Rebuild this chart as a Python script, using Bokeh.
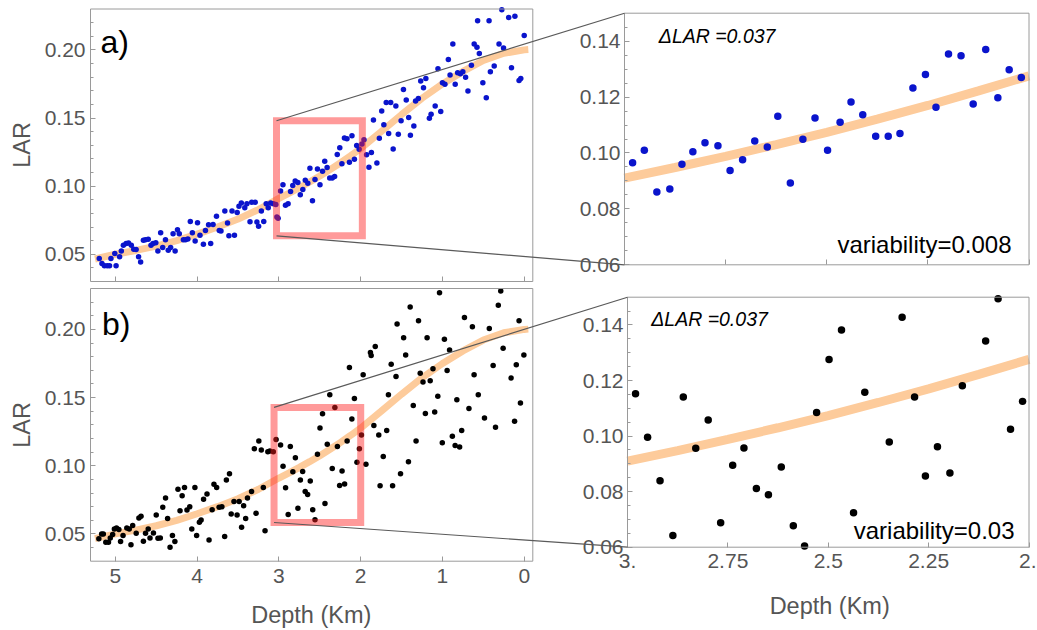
import math
from bokeh.plotting import figure
from bokeh.models import Range1d, LinearAxis, FixedTicker, NumeralTickFormatter, Label
from bokeh.embed import file_html
from bokeh.resources import INLINE

# ---------------- data ----------------
depth_a = [5.198, 5.165, 5.135, 5.101, 5.072, 5.055, 5.008, 4.992, 4.949, 4.928, 4.903, 4.869, 4.840,
           4.806, 4.776, 4.747, 4.717, 4.692, 4.658, 4.633, 4.599, 4.565, 4.540, 4.506, 4.481, 4.447,
           4.422, 4.388, 4.354, 4.325, 4.295, 4.270, 4.241, 4.219, 4.169, 4.143, 4.114, 4.084, 4.059,
           4.025, 3.996, 3.966, 3.924, 3.899, 3.861, 3.835, 3.806, 3.764, 3.730, 3.709, 3.662, 3.629,
           3.612, 3.574, 3.544, 3.511, 3.489, 3.460, 3.418, 3.392, 3.354, 3.333, 3.291, 3.270, 3.249,
           3.215, 3.186, 3.156, 3.131, 3.101, 3.068, 3.038, 3.025, 3.010,
           2.980, 2.951, 2.920, 2.888, 2.858, 2.831, 2.801, 2.769, 2.739, 2.708, 2.678, 2.647, 2.621,
           2.590, 2.559, 2.529, 2.498, 2.467, 2.440, 2.411, 2.379, 2.348, 2.319, 2.287, 2.256, 2.230,
           2.199, 2.168, 2.138, 2.107, 2.077, 2.049, 2.019,
           1.985, 1.960, 1.928, 1.899, 1.869, 1.844, 1.802, 1.772, 1.743, 1.717, 1.688, 1.658, 1.633,
           1.603, 1.570, 1.540, 1.506, 1.477, 1.443, 1.413, 1.392, 1.350, 1.329, 1.295, 1.266, 1.232,
           1.203, 1.160, 1.139, 1.089, 1.055, 1.021, 1.000, 0.970, 0.928, 0.907, 0.873, 0.844, 0.814,
           0.781, 0.751, 0.717, 0.688, 0.646, 0.612, 0.578, 0.570, 0.549, 0.506, 0.464, 0.430, 0.414,
           0.367, 0.308, 0.274, 0.253, 0.190, 0.156, 0.114, 0.063, 0.042, 0.000]
lar_a = [0.0468, 0.0432, 0.0415, 0.0415, 0.0415, 0.0468, 0.0505, 0.0415, 0.0481, 0.0524, 0.0566, 0.0578, 0.0583,
         0.0566, 0.0537, 0.0534, 0.0481, 0.0444, 0.0602, 0.0607, 0.0610, 0.0566, 0.0578, 0.0585, 0.0524, 0.0658,
         0.0549, 0.0607, 0.0529, 0.0549, 0.0651, 0.0524, 0.0680, 0.0651, 0.0607, 0.0607, 0.0612, 0.0741, 0.0658,
         0.0597, 0.0731, 0.0639, 0.0573, 0.0675, 0.0717, 0.0578, 0.0719, 0.0778, 0.0675, 0.0670, 0.0817, 0.0729,
         0.0636, 0.0817, 0.0639, 0.0807, 0.0853, 0.0877, 0.0841, 0.0870, 0.0739, 0.0882, 0.0882, 0.0736, 0.0705,
         0.0817, 0.0741, 0.0870, 0.0841, 0.0877, 0.0870, 0.0865, 0.0773, 0.0765,
         0.0965, 0.1010, 0.0860, 0.0871, 0.0960, 0.1004, 0.1037, 0.1026, 0.0937, 0.0976, 0.1043, 0.1021, 0.1131,
         0.0893, 0.1049, 0.1125, 0.1010, 0.1110, 0.1182, 0.1137, 0.1060, 0.1060, 0.1070, 0.1232, 0.1281, 0.1164,
         0.1354, 0.1348, 0.1175, 0.1370, 0.1198, 0.1298, 0.1270,
         0.1310, 0.1340, 0.1230, 0.1138, 0.1247, 0.1486, 0.1170, 0.1352, 0.1552, 0.1450, 0.1613, 0.1386, 0.1613,
         0.1272, 0.1588, 0.1381, 0.1479, 0.1710, 0.1632, 0.1503, 0.1374, 0.1442, 0.1625, 0.1644, 0.1771, 0.1722,
         0.1790, 0.1498, 0.1528, 0.1588, 0.1861, 0.1547, 0.1759, 0.1747, 0.1929, 0.1815, 0.2044, 0.1747, 0.1832,
         0.1825, 0.1839, 0.1800, 0.1698, 0.1888, 0.2044, 0.2019, 0.2214, 0.1973, 0.1759, 0.1649, 0.2214, 0.1839,
         0.1881, 0.2044, 0.2294, 0.2014, 0.2238, 0.1868, 0.2246, 0.1776, 0.1790, 0.2105]

depth_b = [5.203, 5.169, 5.148, 5.118, 5.085, 5.063, 5.034, 5.013, 4.987, 4.958, 4.937, 4.907, 4.861,
           4.831, 4.810, 4.789, 4.746, 4.713, 4.687, 4.658, 4.632, 4.599, 4.577, 4.535, 4.501, 4.480,
           4.451, 4.421, 4.387, 4.362, 4.332, 4.303, 4.273, 4.235, 4.210, 4.184, 4.155, 4.125, 4.091,
           4.066, 4.028, 4.007, 3.973, 3.952, 3.922, 3.880, 3.855, 3.817, 3.795, 3.762, 3.732, 3.698,
           3.664, 3.643, 3.605, 3.584, 3.550, 3.512, 3.487, 3.457, 3.432, 3.407, 3.385, 3.335, 3.301,
           3.280, 3.246, 3.216, 3.191, 3.170, 3.136, 3.111, 3.069, 3.035,
           2.980, 2.950, 2.919, 2.887, 2.861, 2.830, 2.799, 2.768, 2.738, 2.710, 2.679, 2.649, 2.617,
           2.587, 2.559, 2.529, 2.498, 2.467, 2.437, 2.409, 2.378, 2.348, 2.316, 2.285, 2.258, 2.228,
           2.197, 2.166, 2.138, 2.108, 2.077, 2.046, 2.016,
           1.991, 1.970, 1.936, 1.881, 1.872, 1.839, 1.822, 1.779, 1.763, 1.724, 1.682, 1.661, 1.627,
           1.610, 1.568, 1.555, 1.513, 1.475, 1.450, 1.416, 1.395, 1.357, 1.323, 1.293, 1.272, 1.238,
           1.209, 1.188, 1.150, 1.116, 1.095, 1.057, 1.036, 1.002, 0.976, 0.943, 0.913, 0.879, 0.845,
           0.824, 0.790, 0.765, 0.731, 0.676, 0.634, 0.613, 0.562, 0.486, 0.427, 0.380, 0.351, 0.317,
           0.287, 0.258, 0.161, 0.118, 0.097, 0.063, 0.046, 0.004]
lar_b = [0.0464, 0.0500, 0.0500, 0.0439, 0.0439, 0.0471, 0.0495, 0.0536, 0.0544, 0.0532, 0.0444, 0.0488, 0.0544,
         0.0536, 0.0420, 0.0561, 0.0505, 0.0617, 0.0629, 0.0447, 0.0505, 0.0536, 0.0471, 0.0507, 0.0639, 0.0468,
         0.0471, 0.0695, 0.0763, 0.0614, 0.0403, 0.0488, 0.0444, 0.0828, 0.0670, 0.0780, 0.0840, 0.0675, 0.0699,
         0.0536, 0.0840, 0.0488, 0.0585, 0.0602, 0.0755, 0.0792, 0.0456, 0.0677, 0.0865, 0.0840, 0.0695, 0.0699,
         0.0481, 0.0896, 0.0942, 0.0646, 0.0738, 0.0639, 0.0738, 0.0549, 0.0707, 0.0614, 0.0763, 0.0811, 0.1125,
         0.0651, 0.1181, 0.1115, 0.0840, 0.0524, 0.1103, 0.1108, 0.1103, 0.1193,
         0.1152, 0.0996, 0.0839, 0.0642, 0.1141, 0.0956, 0.1058, 0.0688, 0.0895, 0.0957, 0.0811, 0.0789, 0.0889,
         0.0677, 0.0604, 0.1085, 0.1276, 0.1382, 0.0724, 0.1158, 0.1520, 0.0979, 0.1428, 0.1141, 0.0856, 0.0962,
         0.0867, 0.1181, 0.1720, 0.1342, 0.1494, 0.1025, 0.1125,
         0.1225, 0.1667, 0.1011, 0.1830, 0.1808, 0.1295, 0.1874, 0.1225, 0.0853, 0.1067, 0.1259, 0.1521, 0.1745,
         0.0853, 0.1655, 0.2039, 0.0942, 0.1939, 0.1813, 0.1030, 0.2165, 0.1441, 0.1181, 0.2063, 0.1679, 0.1614,
         0.1383, 0.1939, 0.1623, 0.1711, 0.1395, 0.1509, 0.2268, 0.1169, 0.1927, 0.1699, 0.1849, 0.1217, 0.1149,
         0.1485, 0.1137, 0.1259, 0.2088, 0.1419, 0.2020, 0.1667, 0.1521, 0.1351, 0.2007, 0.1735, 0.1283, 0.2178,
         0.2282, 0.1862, 0.1643, 0.1327, 0.1740, 0.2063, 0.1460, 0.1813]

curve_depth = [5.25, 5.0, 4.75, 4.5, 4.25, 4.0, 3.75, 3.5, 3.25, 3.0, 2.875, 2.75, 2.625, 2.5,
               2.375, 2.25, 2.125, 2.0, 1.75, 1.5, 1.25, 1.0, 0.75, 0.5, 0.25, 0.0, -0.05]
curve_lar = [0.0465, 0.0500, 0.0528, 0.0560, 0.0600, 0.0648, 0.0700, 0.0758, 0.0828, 0.0910, 0.0948,
             0.0988, 0.1030, 0.1074, 0.1121, 0.1170, 0.1222, 0.1276, 0.1400, 0.1525, 0.1645, 0.1750,
             0.1842, 0.1922, 0.1975, 0.2000, 0.2002]

LAR_TICKS = [0.05, 0.10, 0.15, 0.20]
LAR_MINOR = [0.04, 0.06, 0.07, 0.08, 0.09, 0.11, 0.12, 0.13, 0.14, 0.16, 0.17, 0.18, 0.19, 0.21, 0.22]
ZOOM_LAR_TICKS = [0.06, 0.08, 0.10, 0.12, 0.14]
ZOOM_LAR_MINOR = [0.065, 0.07, 0.075, 0.085, 0.09, 0.095, 0.105, 0.11, 0.115, 0.125, 0.13, 0.135, 0.145]
DEPTH_TICKS = [5, 4, 3, 2, 1, 0]
DEPTH_LABELS = ["5", "4", "3", "2", "1", "0"]
ZOOM_DEPTH_TICKS = [3.0, 2.75, 2.5, 2.25, 2.0]
ZOOM_DEPTH_LABELS = ["3.", "2.75", "2.5", "2.25", "2."]
PANEL_TAGS = ["a)", "b)"]
DELTA_TEXT = "\u0394LAR =0.037"
VAR_TEXTS = ["variability=0.008", "variability=0.03"]
Y_TITLE = "LAR"
X_TITLE = "Depth (Km)"

# ---------------- layout / style (pixel positions in the page) ----------------
W, H = 1036, 629
# panel: (x value at left, x value at right, left px, right px), (y top value, y bottom value, top px, bottom px)
GEOM = {
    "tl": ((5.305, -0.105, 90.0, 532.3), (0.23, 0.03, 8.5, 281.0)),
    "bl": ((5.305, -0.105, 90.0, 532.3), (0.23, 0.03, 288.0, 560.7)),
    "tr": ((3.0, 2.0, 624.0, 1028.5), (0.15, 0.06, 12.7, 264.3)),
    "br": ((3.0, 2.0, 627.0, 1028.5), (0.15, 0.06, 296.7, 546.7)),
}
RECT = {"tl": ((3.03, 1.98), (0.0635, 0.148)), "bl": ((3.06, 2.0), (0.0584, 0.1428))}
FONT = "Liberation Sans"
FRAME = "#9a9a9a"
TICK = "#555555"
BLUE = "#0a14cc"
BLACK = "#000000"
ORANGE = "#fdcb9b"


def x_of(key, px):
    v0, v1, p0, p1 = GEOM[key][0]
    return v0 + (px - p0) * (v1 - v0) / (p1 - p0)


def y_of(key, py):
    v0, v1, p0, p1 = GEOM[key][1]
    return v0 + (py - p0) * (v1 - v0) / (p1 - p0)


def px_of(key, v):
    v0, v1, p0, p1 = GEOM[key][0]
    return p0 + (v - v0) * (p1 - p0) / (v1 - v0)


def py_of(key, v):
    v0, v1, p0, p1 = GEOM[key][1]
    return p0 + (v - v0) * (p1 - p0) / (v1 - v0)


p = figure(width=W, height=H, output_backend="svg", toolbar_location=None,
           x_axis_type=None, y_axis_type=None, min_border=0,
           x_range=Range1d(0, 1), y_range=Range1d(0, 1),
           outline_line_color=None, background_fill_color="white", border_fill_color="white")

p.extra_x_ranges = {"x" + k: Range1d(start=x_of(k, 0), end=x_of(k, W)) for k in GEOM}
p.extra_y_ranges = {"y" + k: Range1d(start=y_of(k, H), end=y_of(k, 0)) for k in GEOM}


def rn(k):
    return dict(x_range_name="x" + k, y_range_name="y" + k)


def style_axis(ax, standoff):
    ax.axis_line_color = None
    ax.major_tick_in = 5
    ax.major_tick_out = 0
    ax.minor_tick_in = 3
    ax.minor_tick_out = 0
    ax.major_tick_line_color = FRAME
    ax.minor_tick_line_color = FRAME
    ax.major_label_text_font = FONT
    ax.major_label_text_font_size = "21px"
    ax.major_label_text_color = TICK
    ax.major_label_standoff = standoff


# ---- data glyphs ----
def in_zoom(k, xs, ys):
    (a, b, _, _), (t, bo, _, _) = GEOM[k]
    pts = [(x, y) for x, y in zip(xs, ys) if min(a, b) <= x <= max(a, b) and min(t, bo) <= y <= max(t, bo)]
    return [q[0] for q in pts], [q[1] for q in pts]


for left, right, xs, ys, col in (("tl", "tr", depth_a, lar_a, BLUE), ("bl", "br", depth_b, lar_b, BLACK)):
    p.line(curve_depth, curve_lar, line_color=ORANGE, line_width=7, **rn(left))
    p.scatter(xs, ys, size=5.5, fill_color=col, line_color=None, **rn(left))
    cx, cy = in_zoom(right, curve_depth, curve_lar)
    p.line(cx, cy, line_color=ORANGE, line_width=9, **rn(right))
    zx, zy = in_zoom(right, xs, ys)
    p.scatter(zx, zy, size=7.5, fill_color=col, line_color=None, **rn(right))

# frames
for k in GEOM:
    (a, b, _, _), (t, bo, _, _) = GEOM[k]
    p.quad(left=[a], right=[b], top=[t], bottom=[bo], fill_color=None, line_color=FRAME, line_width=1, **rn(k))

# zoom rectangles and connecting lines
for left, right in (("tl", "tr"), ("bl", "br")):
    (rx0, rx1), (ry0, ry1) = RECT[left]
    p.quad(left=[rx0], right=[rx1], bottom=[ry0], top=[ry1], fill_color=None,
           line_color="#ff2020", line_alpha=0.45, line_width=7, line_join="miter", **rn(left))
    (zx0, _, _, _), (zt, zb, _, _) = GEOM[right]
    cxp = px_of(right, zx0)
    x_end = x_of(left, cxp)
    y_top = y_of(left, py_of(right, zt))
    y_bot = y_of(left, py_of(right, zb))
    p.segment(x0=[rx0, rx0], y0=[ry1, ry0], x1=[x_end, x_end], y1=[y_top, y_bot],
              line_color="#5a5a5a", line_width=1.2, level="overlay", **rn(left))

# ---- axes ----
for k in ("tl", "bl"):
    (xa, xb, _, _), (yt, yb, _, _) = GEOM[k]
    ay = LinearAxis(fixed_location=xa, ticker=FixedTicker(ticks=LAR_TICKS, minor_ticks=LAR_MINOR),
                    formatter=NumeralTickFormatter(format="0.00"), **rn(k))
    style_axis(ay, 5)
    p.add_layout(ay, "left")
    ax = LinearAxis(fixed_location=yb, ticker=FixedTicker(ticks=DEPTH_TICKS, minor_ticks=[]), **rn(k))
    style_axis(ax, 8)
    if k == "tl":
        ax.major_label_overrides = {t: "" for t in DEPTH_TICKS}
    else:
        ax.major_label_overrides = dict(zip(DEPTH_TICKS, DEPTH_LABELS))
    p.add_layout(ax, "below")

for k in ("tr", "br"):
    (xa, xb, _, _), (yt, yb, _, _) = GEOM[k]
    ay = LinearAxis(fixed_location=xa, ticker=FixedTicker(ticks=ZOOM_LAR_TICKS, minor_ticks=ZOOM_LAR_MINOR),
                    formatter=NumeralTickFormatter(format="0.00"), **rn(k))
    style_axis(ay, 4)
    p.add_layout(ay, "left")
    ax = LinearAxis(fixed_location=yb, ticker=FixedTicker(ticks=ZOOM_DEPTH_TICKS, minor_ticks=[]), **rn(k))
    style_axis(ax, 7)
    if k == "tr":
        ax.major_label_overrides = {t: "" for t in ZOOM_DEPTH_TICKS}
    else:
        ax.major_label_overrides = dict(zip(ZOOM_DEPTH_TICKS, ZOOM_DEPTH_LABELS))
    p.add_layout(ax, "below")


# ---- texts ----
def label(k, px, py, text, size, color="black", align="left", baseline="middle", angle=0.0, style="normal"):
    p.add_layout(Label(x=x_of(k, px), y=y_of(k, py), text=text, text_font=FONT, text_font_size=size,
                       text_color=color, text_align=align, text_baseline=baseline, angle=angle,
                       text_font_style=style, **rn(k)))


label("tl", 100, 41.5, PANEL_TAGS[0], "32px", baseline="alphabetic")
label("bl", 101.5, 323.7, PANEL_TAGS[1], "32px", baseline="alphabetic")
label("tl", 21.5, 144.5, Y_TITLE, "23.5px", color=TICK, align="center", angle=math.pi / 2)
label("bl", 21.5, 424.5, Y_TITLE, "23.5px", color=TICK, align="center", angle=math.pi / 2)
label("bl", 310.8, 614, X_TITLE, "23.5px", color=TICK, align="center", baseline="alphabetic")
label("br", 829.2, 605, X_TITLE, "23.5px", color=TICK, align="center", baseline="alphabetic")
label("tr", 658.3, 35.5, DELTA_TEXT, "19.5px", style="italic")
label("br", 650.7, 318.0, DELTA_TEXT, "19.5px", style="italic")
label("tr", 1011, 243.5, VAR_TEXTS[0], "24px", align="right", baseline="alphabetic")
label("br", 1014, 529.5, VAR_TEXTS[1], "24px", align="right", baseline="alphabetic")

open("out.html", "w").write(file_html(p, INLINE))
